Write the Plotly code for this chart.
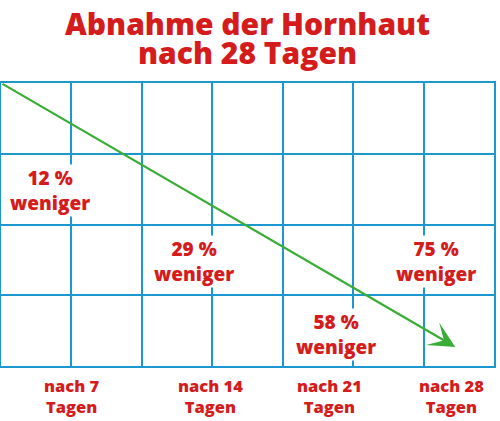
import plotly.graph_objects as go

# ---- data ----
days = [7, 14, 21, 28]
reduction_pct = [12, 29, 58, 75]
title_lines = ["Abnahme der Hornhaut", "nach 28 Tagen"]
x_tick_labels = ["nach 7<br>Tagen", "nach 14<br>Tagen", "nach 21<br>Tagen", "nach 28<br>Tagen"]

# ---- layout / style (grid units: 7 columns x 4 rows) ----
n_cols, n_rows = 7, 4
value_label_pos = [(0.70, 2.48), (2.74, 1.48), (4.76, 0.45), (6.18, 1.48)]
tick_label_x = [1.01, 2.97, 4.67, 6.40]
arrow_start = (0.0, 4.0)
arrow_tip = (6.45, 0.27)

RED = "#d51c1c"
BLUE = "#1b98cf"
GREEN = "#3aad36"
FONT = "Open Sans"

W, H = 500, 421
margin = dict(l=1, r=6, t=83, b=55, pad=0)
plot_h = H - margin["t"] - margin["b"]


def px_to_paper_y(px):
    return (H - margin["b"] - px) / plot_h


fig = go.Figure()
fig.add_trace(go.Scatter(x=[0, n_cols], y=[0, n_rows], mode="markers",
                         marker=dict(opacity=0), hoverinfo="skip", showlegend=False))

axis_common = dict(showgrid=True, gridcolor=BLUE, gridwidth=2, dtick=1, tick0=0,
                   showline=True, linecolor=BLUE, linewidth=2, mirror=True,
                   showticklabels=False, ticks="", zeroline=False, fixedrange=True)
fig.update_xaxes(range=[0, n_cols], **axis_common)
fig.update_yaxes(range=[0, n_rows], **axis_common)

annotations = []
# value labels with white background (interrupt grid lines)
for (x, y), p in zip(value_label_pos, reduction_pct):
    annotations.append(dict(x=x, y=y, xref="x", yref="y", showarrow=False,
                            text=f"{p} %<br>weniger", align="center",
                            font=dict(family=FONT, size=19, color=RED, weight=800),
                            bgcolor="white", borderpad=0))
# arrow
annotations.append(dict(x=arrow_tip[0], y=arrow_tip[1], ax=arrow_start[0], ay=arrow_start[1],
                        xref="x", yref="y", axref="x", ayref="y", text="",
                        showarrow=True, arrowhead=3, arrowsize=1.9, arrowwidth=2.3,
                        arrowcolor=GREEN))
# x tick labels
for x, t in zip(tick_label_x, x_tick_labels):
    annotations.append(dict(x=x, y=px_to_paper_y(372), xref="x", yref="paper", showarrow=False,
                            text=t, align="center", yanchor="top",
                            font=dict(family=FONT, size=16.5, color=RED, weight=800)))
# title lines
for i, t in enumerate(title_lines):
    annotations.append(dict(x=0.5, y=px_to_paper_y(23 + 30 * i), xref="paper", yref="paper",
                            showarrow=False, yanchor="middle",
                            text=t, font=dict(family=FONT, size=30, color=RED, weight=800)))

fig.update_layout(width=W, height=H, margin=margin, plot_bgcolor="white",
                  paper_bgcolor="white", annotations=annotations, showlegend=False)

fig.write_html("out.html")
